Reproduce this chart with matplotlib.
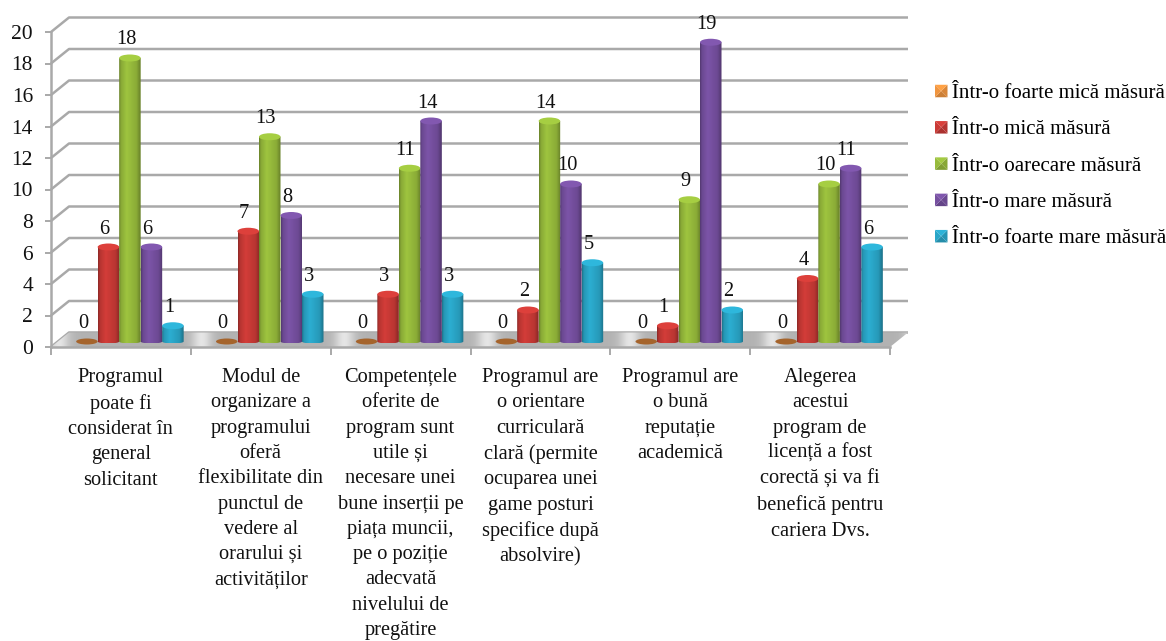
import numpy as np
import matplotlib
matplotlib.use("Agg")
import matplotlib.pyplot as plt
from matplotlib.legend_handler import HandlerBase
from matplotlib.patches import Ellipse, Patch, Polygon
from matplotlib.path import Path

# === DATA ===
CATEGORIES = [
    "Programul\npoate fi\nconsiderat în\ngeneral\nsolicitant",
    "Modul de\norganizare a\nprogramului\noferă\nflexibilitate din\npunctul de\nvedere al\norarului și\nactivităților",
    "Competențele\noferite de\nprogram sunt\nutile și\nnecesare unei\nbune inserții pe\npiața muncii,\npe o poziție\nadecvată\nnivelului de\npregătire",
    "Programul are\no orientare\ncurriculară\nclară (permite\nocuparea unei\ngame posturi\nspecifice după\nabsolvire)",
    "Programul are\no bună\nreputație\nacademică",
    "Alegerea\nacestui\nprogram de\nlicență a fost\ncorectă și va fi\nbenefică pentru\ncariera Dvs.",
]
SERIES_NAMES = [
    "Într-o foarte mică măsură",
    "Într-o mică măsură",
    "Într-o oarecare măsură",
    "Într-o mare măsură",
    "Într-o foarte mare măsură",
]
foarte_mica = [0, 0, 0, 0, 0, 0]
mica = [6, 7, 3, 2, 1, 4]
oarecare = [18, 13, 11, 14, 9, 10]
mare = [6, 8, 14, 10, 19, 11]
foarte_mare = [1, 3, 3, 5, 2, 6]
Y_TICKS = list(range(0, 21, 2))

# === STYLE ===
SERIES = [foarte_mica, mica, oarecare, mare, foarte_mare]
COLORS = ["#f0953f", "#c93a36", "#97bb3c", "#7650a0", "#2aa6c8"]
FONT = "Liberation Serif"
FS = 14.7
GREY = "#a9a9a9"

W, H = 1166, 641
X0, X1, Y0, Y1 = 51, 890, 347, 32
PX_X = 6 / (X1 - X0)
PX_Y = 20 / (Y0 - Y1)
WALL_DX = 18 * PX_X
WALL_DY = 14.5 * PX_Y
BAR_W = 21.5 * PX_X
SHIFT_X = 9 * PX_X
SHIFT_Y = 5.5 * PX_Y
CAP = 3.5 * PX_Y
FOOT = 2 * PX_Y


def hex_rgb(c):
    return np.array(matplotlib.colors.to_rgb(c))


def shade_strip(color):
    # dark edges, bright band left of the middle, like the Excel cylinder
    t = np.linspace(0, 1, 48)
    s = np.interp(t, [0, 0.08, 0.35, 0.8, 1], [0.7, 0.9, 1.05, 0.92, 0.68])
    return np.clip(hex_rgb(color)[None, None, :] * s[None, :, None], 0, 1)


def draw_bar(ax, x, value, color, z):
    cy = SHIFT_Y
    if value == 0:
        ax.add_patch(Ellipse((x, cy), BAR_W, 2 * 3 * PX_Y, facecolor="#a5642c",
                             edgecolor="none", zorder=z))
        return
    left, right = x - BAR_W / 2, x + BAR_W / 2
    th = np.linspace(np.pi, 2 * np.pi, 30)
    xs = x + BAR_W / 2 * np.cos(th)
    bottom = cy + FOOT * np.sin(th)
    outline = np.vstack([
        np.column_stack([xs, bottom]),
        [[right, value + cy], [left, value + cy]],
        [[left, cy]],
    ])
    im = ax.imshow(shade_strip(color), extent=[left, right, cy - FOOT, value + cy],
                   aspect="auto", zorder=z, interpolation="bilinear")
    im.set_clip_path(Path(outline), ax.transData)
    cap_col = np.clip(hex_rgb(color) * 1.1, 0, 1)
    ax.add_patch(Ellipse((x, value + cy), BAR_W, 2 * CAP, facecolor=cap_col,
                         edgecolor="none", zorder=z + 0.1))


class PyramidHandler(HandlerBase):
    # bevelled legend key
    def create_artists(self, legend, orig, xd, yd, w, h, fontsize, trans):
        c = hex_rgb(orig.get_facecolor()[:3])
        x0, y0 = -xd, -yd
        s = min(w, h)
        a, b, d = (x0, y0), (x0 + s, y0), (x0 + s, y0 + s)
        e = (x0, y0 + s)
        m = (x0 + s / 2, y0 + s / 2)
        faces = [((a, b, m), 0.85), ((b, d, m), 0.9), ((d, e, m), 1.08), ((e, a, m), 1.0)]
        return [Polygon(p, closed=True, facecolor=np.clip(c * k, 0, 1),
                        edgecolor="none", transform=trans) for p, k in faces]


# === FIGURE ===
fig = plt.figure(figsize=(W / 100, H / 100), dpi=100)
ax = fig.add_axes([X0 / W, 1 - Y0 / H, (X1 - X0) / W, (Y0 - Y1) / H])
n_cat = len(CATEGORIES)

# walls
for y in Y_TICKS:
    ax.plot([0, WALL_DX, n_cat + WALL_DX], [y, y + WALL_DY, y + WALL_DY],
            color=GREY, lw=1.8, zorder=1, clip_on=False, solid_capstyle="butt")

# floor
t = np.linspace(0, n_cat, 420)
floor_s = 0.7 + 0.2 * np.exp(-(((t + 0.45) % 1 - 0.5) / 0.07) ** 2)
floor_img = np.repeat(floor_s[None, :, None], 3, axis=2)
floor = ax.imshow(floor_img, extent=[0, n_cat + WALL_DX, 0, WALL_DY],
                  aspect="auto", zorder=2, interpolation="bilinear")
floor.set_clip_box(fig.bbox)
floor.set_clip_path(
    Path([(0, 0), (WALL_DX, WALL_DY), (n_cat + WALL_DX, WALL_DY), (n_cat, 0), (0, 0)]),
    ax.transData,
)

# bars
for s, values in enumerate(SERIES):
    for c, v in enumerate(values):
        x = c + 0.5 + SHIFT_X + (s - 2) * BAR_W
        draw_bar(ax, x, v, COLORS[s], 3 + s)
        ax.text(x - 4 * PX_X, v + 23 * PX_Y + SHIFT_Y - 5 * PX_Y, str(v), ha="center",
                va="center", family=FONT, fontsize=FS, color="#111111", zorder=10)

ax.set_xlim(0, n_cat)
ax.set_ylim(0, 20)
ax.set_yticks(Y_TICKS)
ax.set_xticks(range(n_cat + 1))
ax.set_xticklabels([])
ax.tick_params(axis="y", length=4, width=1.4, color=GREY, pad=9, labelsize=15.5)
ax.tick_params(axis="x", length=6, width=1.4, color=GREY)
for lab in ax.get_yticklabels():
    lab.set_family(FONT)
    lab.set_color("#111111")
ax.spines[["top", "right"]].set_visible(False)
ax.spines[["left", "bottom"]].set_color(GREY)
ax.spines[["left", "bottom"]].set_linewidth(1.8)
ax.patch.set_visible(False)

# category labels
for c, label in enumerate(CATEGORIES):
    ax.text(c + 0.5, -(368 - Y0) * PX_Y, label, ha="center", va="top", family=FONT,
            fontsize=FS, linespacing=1.45, color="#111111", multialignment="center")

# legend
handles = [Patch(facecolor=col, label=name) for col, name in zip(COLORS, SERIES_NAMES)]
fig.legend(handles=handles, loc="upper left", bbox_to_anchor=(935 / W, 1 - 84 / H),
           frameon=False, prop={"family": FONT, "size": 15}, labelspacing=0.83,
           handlelength=0.6, handleheight=0.6, handletextpad=0.2, borderpad=0, borderaxespad=0,
           handler_map={Patch: PyramidHandler()})

fig.savefig("out.png", dpi=100)
